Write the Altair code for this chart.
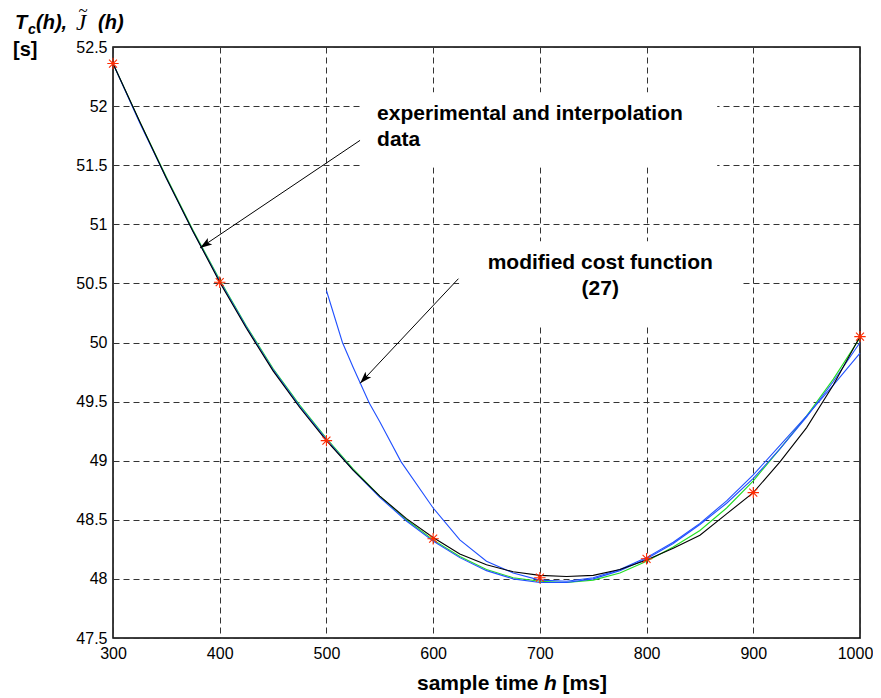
import altair as alt
import pandas as pd

# ---- data ----
h_exp = [300, 400, 500, 600, 700, 800, 900, 1000]
t_exp = [52.36, 50.51, 49.17, 48.34, 48.01, 48.17, 48.73, 50.05]

h_grid = [300, 325, 350, 375, 400, 425, 450, 475, 500, 525, 550, 575, 600, 625, 650,
          675, 700, 725, 750, 775, 800, 825, 850, 875, 900, 925, 950, 975, 1000]
interp_black = [52.36, 51.87, 51.39, 50.94, 50.51, 50.12, 49.76, 49.45, 49.17, 48.92,
                48.70, 48.51, 48.35, 48.21, 48.12, 48.06, 48.03, 48.02, 48.03, 48.08,
                48.16, 48.26, 48.37, 48.55, 48.73, 48.99, 49.28, 49.64, 50.05]
fit_green = [52.36, 51.87, 51.40, 50.95, 50.53, 50.14, 49.78, 49.47, 49.19, 48.93,
             48.70, 48.50, 48.33, 48.19, 48.08, 48.01, 47.98, 47.97, 47.99, 48.05,
             48.15, 48.27, 48.41, 48.60, 48.83, 49.10, 49.38, 49.69, 50.04]
fit_blue = [52.36, 51.86, 51.39, 50.94, 50.52, 50.13, 49.77, 49.46, 49.18, 48.92,
            48.69, 48.49, 48.32, 48.18, 48.07, 48.00, 47.97, 47.97, 48.00, 48.07,
            48.17, 48.30, 48.46, 48.64, 48.85, 49.10, 49.37, 49.67, 50.00]

h_mod = [500, 515, 525, 540, 550, 570, 600, 625, 650, 675, 700, 725, 750, 775, 800,
         825, 850, 875, 900, 925, 950, 975, 1000]
mod_blue = [50.44, 50.00, 49.79, 49.49, 49.33, 48.99, 48.60, 48.33, 48.15, 48.05, 47.99,
            47.98, 48.01, 48.08, 48.18, 48.31, 48.47, 48.66, 48.88, 49.13, 49.38, 49.64, 49.91]

x_ticks = [300, 400, 500, 600, 700, 800, 900, 1000]
y_ticks = [47.5, 48, 48.5, 49, 49.5, 50, 50.5, 51, 51.5, 52, 52.5]

# annotations
ann_text = ["experimental and interpolation", "data", "modified cost function", "(27)"]
ann_h = [547.5, 547.5, 756.6, 756.6]
ann_t = [51.88, 51.66, 50.62, 50.40]
ann_align = ["left", "left", "center", "center"]

box_h = [532.5, 624.4]
box_h2 = [866.2, 889.7]
box_t = [52.117, 50.857]
box_t2 = [51.483, 50.147]

arr_h = [531.5, 623.7]
arr_t = [51.71, 50.54]
arr_h2 = [381.6, 531.6]
arr_t2 = [50.80, 49.655]
arr_angle = [236, 223]

FONT = "Liberation Sans"

X = alt.X("h:Q", scale=alt.Scale(domain=[300, 1000], nice=False, zero=False),
          axis=alt.Axis(values=x_ticks, grid=True, ticks=False, domain=False,
                        labelFlush=False, title=None, labelPadding=7, format="d",
                        labelOffset=alt.condition("datum.value == 1000",
                                                  alt.value(-5), alt.value(0))))
Y = alt.Y("t:Q", scale=alt.Scale(domain=[47.5, 52.5], nice=False, zero=False),
          axis=alt.Axis(values=y_ticks, grid=True, ticks=False, domain=False,
                        title=None, labelPadding=6, format="~g"))

df_exp = pd.DataFrame({"h": h_exp, "t": t_exp})
df_black = pd.DataFrame({"h": h_grid, "t": interp_black})
df_green = pd.DataFrame({"h": h_grid, "t": fit_green})
df_blue = pd.DataFrame({"h": h_grid, "t": fit_blue})
df_mod = pd.DataFrame({"h": h_mod, "t": mod_blue})
df_ann = pd.DataFrame({"h": ann_h, "t": ann_t, "label": ann_text, "al": ann_align})
df_box = pd.DataFrame({"h": box_h, "h2": box_h2, "t": box_t, "t2": box_t2})
df_arr = pd.DataFrame({"h": arr_h, "t": arr_t, "h2": arr_h2, "t2": arr_t2, "a": arr_angle})
df_tip = pd.DataFrame({"h": arr_h2, "t": arr_t2, "a": arr_angle})

green_line = alt.Chart(df_green).mark_line(color="#22dd22", strokeWidth=1.1).encode(x=X, y=Y)
blue_line = alt.Chart(df_blue).mark_line(color="#2050ff", strokeWidth=1.1).encode(x=X, y=Y)
mod_line = alt.Chart(df_mod).mark_line(color="#2050ff", strokeWidth=1.1).encode(x=X, y=Y)
black_line = alt.Chart(df_black).mark_line(color="black", strokeWidth=1.1).encode(x=X, y=Y)

ASTERISK = "M-1,0L1,0M0,-1L0,1M-0.7,-0.7L0.7,0.7M-0.7,0.7L0.7,-0.7"
stars = alt.Chart(df_exp).mark_point(shape=ASTERISK, filled=False, color="#ff2a00",
                                     size=130, strokeWidth=1.1, opacity=1).encode(x=X, y=Y)

boxes = alt.Chart(df_box).mark_rect(color="white").encode(x=X, x2="h2:Q", y=Y, y2="t2:Q")

arrows = alt.Chart(df_arr).mark_rule(color="black", strokeWidth=1).encode(
    x=X, y=Y, x2="h2:Q", y2="t2:Q")
HEAD = "M0,0L-0.33,1L0,0.78L0.33,1Z"
tips = alt.Chart(df_tip).mark_point(shape=HEAD, filled=True, color="black", size=576,
                                    opacity=1).encode(
    x=X, y=Y, angle=alt.Angle("a:Q", scale=None))

ann_left = alt.Chart(df_ann[df_ann.al == "left"]).mark_text(
    font=FONT, fontWeight="bold", fontSize=21, align="left", baseline="alphabetic",
    color="black").encode(x=X, y=Y, text="label:N")
ann_center = alt.Chart(df_ann[df_ann.al == "center"]).mark_text(
    font=FONT, fontWeight="bold", fontSize=21, align="center", baseline="alphabetic",
    color="black").encode(x=X, y=Y, text="label:N")


def txt(s, x, y, size, style="normal", weight="bold", font=FONT, align="left"):
    return alt.Chart(pd.DataFrame({"s": [s]})).mark_text(
        text=s, font=font, fontSize=size, fontStyle=style, fontWeight=weight,
        align=align, baseline="alphabetic", color="black").encode(
        x=alt.value(x), y=alt.value(y))


titles = [
    txt("T", -98, -18, 20, "italic"),
    txt("c", -85, -13, 14, "italic"),
    txt("(h),", -77, -18, 20, "italic"),
    txt("J", -37, -17, 23, "italic", "normal", "Liberation Serif"),
    txt("~", -30, -31, 17, "normal", "normal", "Liberation Serif", "center"),
    txt("(h)", -15, -18, 20, "italic"),
    txt("[s]", -100, 9, 20),
    txt("sample time", 304, 643, 21),
    txt("h", 431, 643, 21, "italic"),
    txt("[ms]", 449.6, 643, 21),
]

chart = alt.layer(
    boxes, green_line, blue_line, mod_line, black_line, stars, arrows, tips,
    ann_left, ann_center, *titles
).properties(
    width=747, height=591,
    autosize=alt.AutoSizeParams(type="none"),
    padding={"left": 105, "top": 39, "right": 13, "bottom": 58},
    background="white",
).configure_view(
    stroke="black", strokeWidth=1.5
).configure_axis(
    labelFont=FONT, labelFontSize=16, labelColor="black",
    gridColor="#333333", gridDash=[6, 4], gridWidth=1, gridOpacity=1
)

chart.save("out.html", embed_options={"renderer": "svg", "actions": False})
